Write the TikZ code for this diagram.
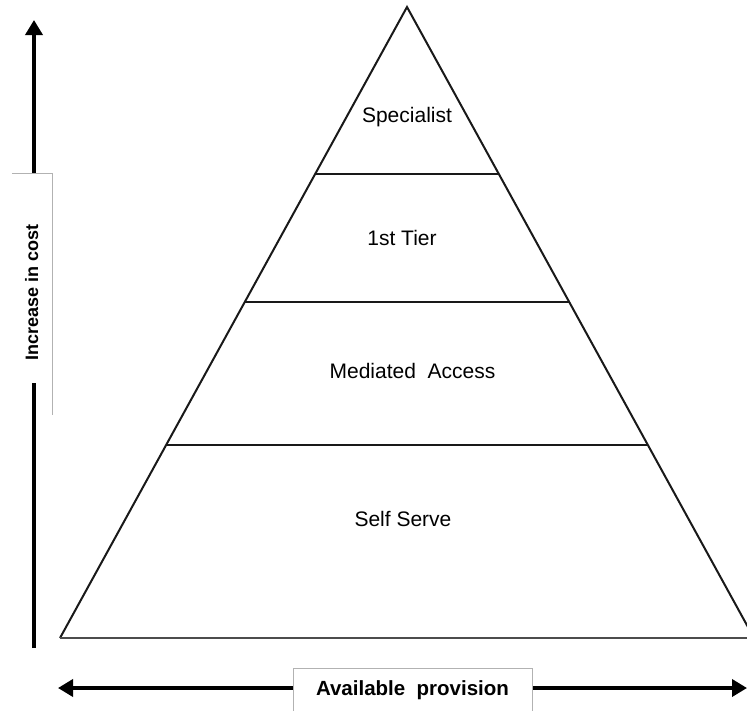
\documentclass[tikz,border=0pt]{standalone}
\usepackage{fontspec}
\setmainfont{Liberation Sans}
\usetikzlibrary{arrows.meta}
\tikzset{
  tri/.style={line width=2pt, black!90, line join=miter},
  tierline/.style={line width=2pt, black!90},
  axis/.style={line width=3.6pt, -{Triangle[length=15pt,width=17pt]}},
  axis2/.style={line width=3.6pt, {Triangle[length=15pt,width=17pt]}-{Triangle[length=15pt,width=17pt]}},
  labelbox/.style={draw=black!30, line width=0.8pt, fill=white, inner sep=0pt},
  boxfill/.style={fill=white, inner sep=0pt},
  boxedge/.style={draw=black!30, line width=0.8pt},
  tier/.style={font=\fontsize{21}{25}\selectfont, anchor=base, inner sep=0pt},
  axislabel/.style={font=\bfseries\fontsize{20.5}{24}\selectfont, anchor=base, inner sep=0pt},
}
\begin{document}
\begin{tikzpicture}[x=1pt,y=-1pt]
\useasboundingbox (0,0) rectangle (747,710);
\clip (0,0) rectangle (747,710);
% triangle
\coordinate (apex) at (407,7);
\coordinate (bl) at (60,638);
\coordinate (br) at (754,638);
\draw[tri] (bl) -- (apex) -- (br);
\draw[line width=2.4pt, black!70] (bl) -- (br);
% tier lines
\coordinate (l1) at (315.2,174);
\coordinate (r1) at (498.6,174);
\coordinate (l2) at (244.8,302);
\coordinate (r2) at (569.0,302);
\coordinate (l3) at (166.2,445);
\coordinate (r3) at (647.6,445);
\draw[tierline] (l1) -- (r1);
\draw[tierline] (l2) -- (r2);
\draw[tierline] (l3) -- (r3);
% tier labels
\node[tier] (spec) at (407,122) {Specialist};
\node[tier] (tier1) at (402,245) {1st Tier};
\node[tier] (med) at (412.5,378) {Mediated\ \ Access};
\node[tier] (self) at (403,526) {Self Serve};
% vertical axis
\coordinate (vbot) at (34,648);
\coordinate (vtop) at (34,20);
\draw[axis] (vbot) -- (vtop);
\node[boxfill, minimum width=40pt, minimum height=209pt] (ybox) at (32,278.5) {};
\draw[boxedge] (ybox.north west) -- (ybox.north east) -- ([yshift=-32pt]ybox.south east);
\node[axislabel, font=\bfseries\fontsize{18}{21}\selectfont, rotate=90] (ylab) at (38,292.5) {Increase in cost};
% horizontal axis
\coordinate (hl) at (58,688);
\coordinate (hr) at (747,688);
\draw[axis2] (hl) -- (hr);
\node[labelbox, minimum width=239pt, minimum height=60pt] (xbox) at (412.5,698) {};
\node[axislabel] (xlab) at (412.5,695) {Available\ \ provision};
\end{tikzpicture}
\end{document}
